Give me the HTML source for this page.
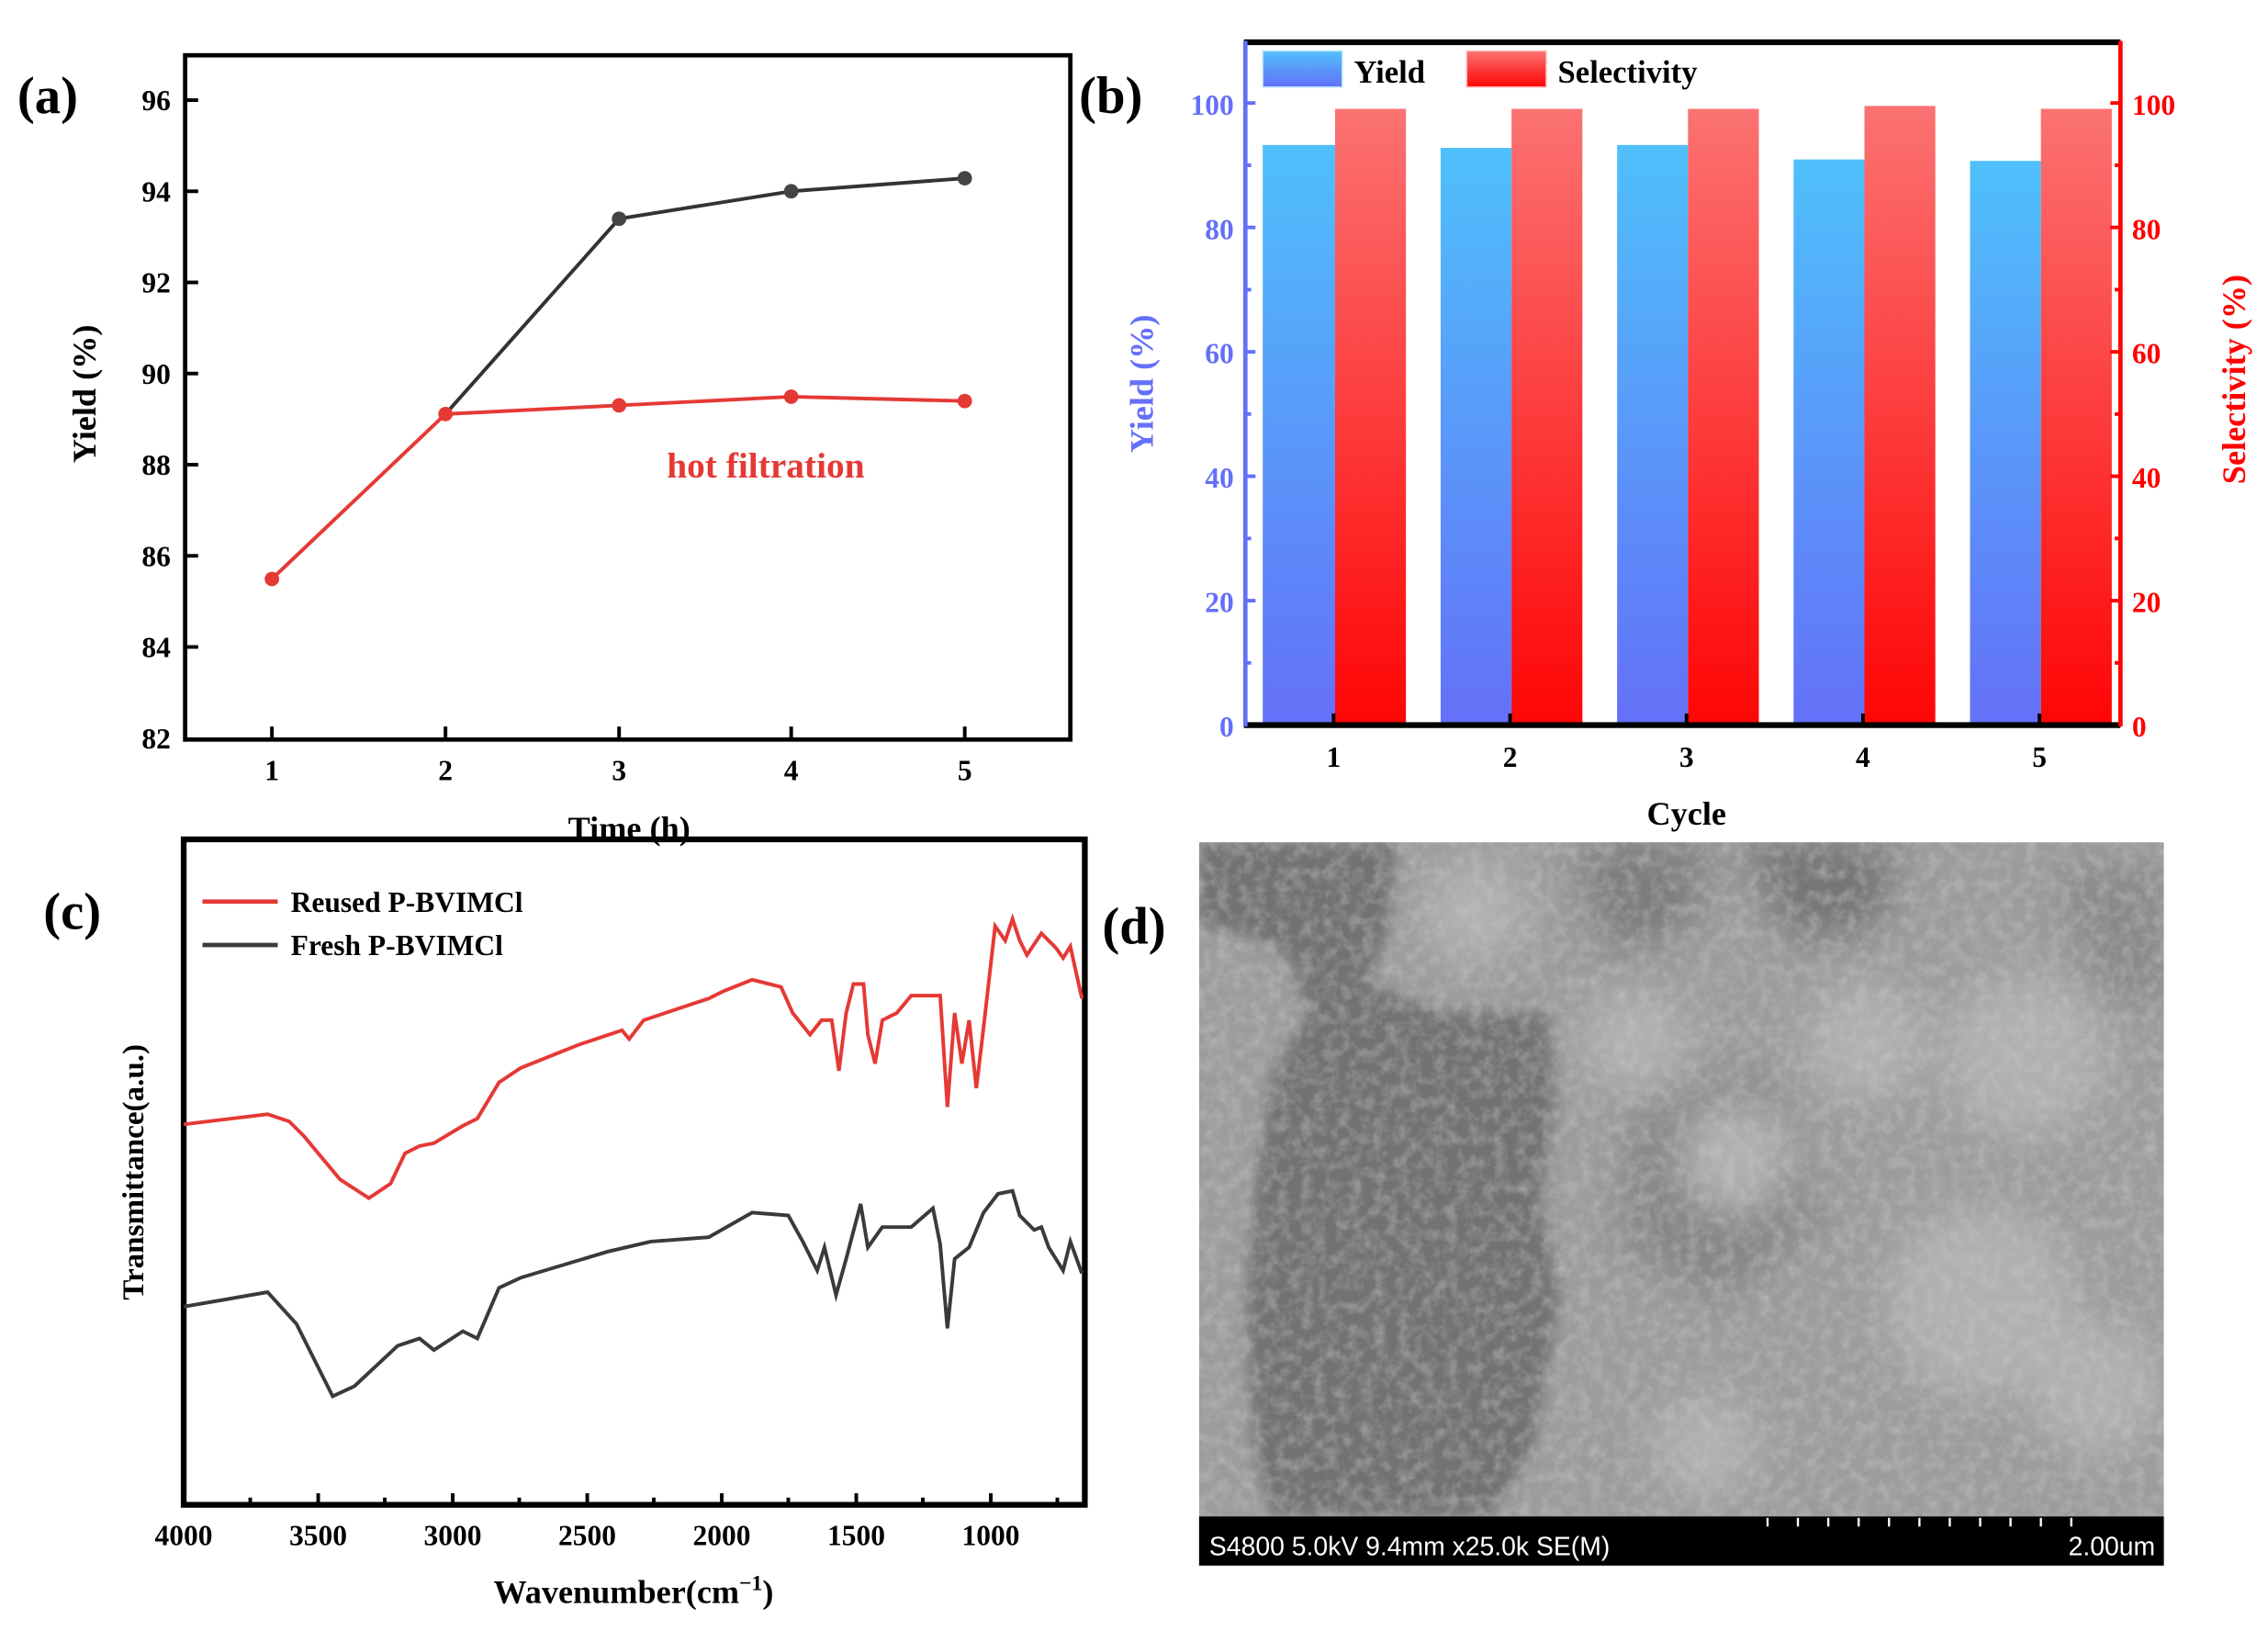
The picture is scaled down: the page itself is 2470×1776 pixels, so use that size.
<!DOCTYPE html>
<html><head><meta charset="utf-8"><style>html,body{margin:0;padding:0;background:#fff}svg{display:block}</style></head>
<body>
<svg width="2470" height="1776" viewBox="0 0 1568 1127" xmlns="http://www.w3.org/2000/svg" font-family="'Liberation Serif',serif" font-weight="bold">
<defs>
<linearGradient id="gy" x1="0" y1="0" x2="0" y2="1"><stop offset="0" stop-color="#4fc0fb"/><stop offset="1" stop-color="#6470f8"/></linearGradient>
<linearGradient id="gs" x1="0" y1="0" x2="0" y2="1"><stop offset="0" stop-color="#fb7272"/><stop offset="1" stop-color="#ff0505"/></linearGradient>
<filter id="noise" x="0" y="0" width="100%" height="100%"><feTurbulence type="fractalNoise" baseFrequency="0.12" numOctaves="3" seed="4"/><feColorMatrix type="matrix" values="0 0 0 0 0.6  0 0 0 0 0.6  0 0 0 0 0.6  0.9 0 0 0 -0.35"/></filter>
<filter id="blur"><feGaussianBlur stdDeviation="5"/></filter>
<filter id="blur2"><feGaussianBlur stdDeviation="14"/></filter>
<clipPath id="semclip"><rect x="829" y="582" width="667" height="466"/></clipPath>
</defs>
<rect width="1568" height="1127" fill="#fff"/>

<!-- (a) -->
<text x="12" y="78" font-size="36">(a)</text>
<rect x="128" y="38" width="612" height="473" fill="none" stroke="#000" stroke-width="3"/>
<g stroke="#000" stroke-width="2.5">
<line x1="128" y1="69" x2="137" y2="69"/><line x1="128" y1="132" x2="137" y2="132"/><line x1="128" y1="195" x2="137" y2="195"/><line x1="128" y1="258" x2="137" y2="258"/><line x1="128" y1="321" x2="137" y2="321"/><line x1="128" y1="384" x2="137" y2="384"/><line x1="128" y1="447" x2="137" y2="447"/>
<line x1="188" y1="511" x2="188" y2="502"/><line x1="308" y1="511" x2="308" y2="502"/><line x1="428" y1="511" x2="428" y2="502"/><line x1="547" y1="511" x2="547" y2="502"/><line x1="667" y1="511" x2="667" y2="502"/>
</g>
<g font-size="20" text-anchor="end">
<text x="118" y="76">96</text><text x="118" y="139">94</text><text x="118" y="202">92</text><text x="118" y="265">90</text><text x="118" y="328">88</text><text x="118" y="391">86</text><text x="118" y="454">84</text><text x="118" y="517">82</text></g>
<g font-size="20" text-anchor="middle"><text x="188" y="539">1</text><text x="308" y="539">2</text><text x="428" y="539">3</text><text x="547" y="539">4</text><text x="667" y="539">5</text></g>
<text x="435" y="580" font-size="23" text-anchor="middle">Time (h)</text>
<text transform="translate(66,272) rotate(-90)" font-size="23" text-anchor="middle">Yield (%)</text>
<polyline points="308,286 428,151 547,132 667,123" fill="none" stroke="#333" stroke-width="2.5"/>
<g fill="#444"><circle cx="428" cy="151" r="5"/><circle cx="547" cy="132" r="5"/><circle cx="667" cy="123" r="5"/></g>
<polyline points="188,400 308,286 428,280 547,274 667,277" fill="none" stroke="#e53935" stroke-width="2.5"/>
<g fill="#e53935"><circle cx="188" cy="400" r="5"/><circle cx="308" cy="286" r="5"/><circle cx="428" cy="280" r="5"/><circle cx="547" cy="274" r="5"/><circle cx="667" cy="277" r="5"/></g>
<text x="461" y="330" font-size="25" fill="#e53935">hot filtration</text>

<!-- (b) -->
<text x="746" y="78" font-size="36">(b)</text>
<g>
<rect x="873" y="100" width="50" height="401" fill="url(#gy)"/><rect x="923" y="75" width="49" height="426" fill="url(#gs)"/>
<rect x="996" y="102" width="49" height="399" fill="url(#gy)"/><rect x="1045" y="75" width="49" height="426" fill="url(#gs)"/>
<rect x="1118" y="100" width="49" height="401" fill="url(#gy)"/><rect x="1167" y="75" width="49" height="426" fill="url(#gs)"/>
<rect x="1240" y="110" width="49" height="391" fill="url(#gy)"/><rect x="1289" y="73" width="49" height="428" fill="url(#gs)"/>
<rect x="1362" y="111" width="49" height="390" fill="url(#gy)"/><rect x="1411" y="75" width="49" height="426" fill="url(#gs)"/>
</g>
<line x1="860" y1="29" x2="1466" y2="29" stroke="#000" stroke-width="4"/>
<line x1="860" y1="501" x2="1466" y2="501" stroke="#000" stroke-width="4"/>
<line x1="861" y1="28" x2="861" y2="502" stroke="#6470f8" stroke-width="3"/>
<line x1="1466" y1="28" x2="1466" y2="502" stroke="#ff0000" stroke-width="3"/>
<g stroke="#6470f8" stroke-width="2.5"><line x1="861" y1="71" x2="868" y2="71"/><line x1="861" y1="157" x2="868" y2="157"/><line x1="861" y1="243" x2="868" y2="243"/><line x1="861" y1="329" x2="868" y2="329"/><line x1="861" y1="415" x2="868" y2="415"/><line x1="861" y1="114" x2="865" y2="114"/><line x1="861" y1="200" x2="865" y2="200"/><line x1="861" y1="286" x2="865" y2="286"/><line x1="861" y1="372" x2="865" y2="372"/><line x1="861" y1="458" x2="865" y2="458"/></g>
<g stroke="#ff0000" stroke-width="2.5"><line x1="1459" y1="71" x2="1466" y2="71"/><line x1="1459" y1="157" x2="1466" y2="157"/><line x1="1459" y1="243" x2="1466" y2="243"/><line x1="1459" y1="329" x2="1466" y2="329"/><line x1="1459" y1="415" x2="1466" y2="415"/><line x1="1462" y1="114" x2="1466" y2="114"/><line x1="1462" y1="200" x2="1466" y2="200"/><line x1="1462" y1="286" x2="1466" y2="286"/><line x1="1462" y1="372" x2="1466" y2="372"/><line x1="1462" y1="458" x2="1466" y2="458"/></g>
<g stroke="#000" stroke-width="2.5"><line x1="922" y1="501" x2="922" y2="493"/><line x1="1044" y1="501" x2="1044" y2="493"/><line x1="1166" y1="501" x2="1166" y2="493"/><line x1="1288" y1="501" x2="1288" y2="493"/><line x1="1410" y1="501" x2="1410" y2="493"/></g>
<g font-size="20" text-anchor="end" fill="#6470f8"><text x="853" y="79">100</text><text x="853" y="165">80</text><text x="853" y="251">60</text><text x="853" y="337">40</text><text x="853" y="423">20</text><text x="853" y="509">0</text></g>
<g font-size="20" fill="#ff0000"><text x="1474" y="79">100</text><text x="1474" y="165">80</text><text x="1474" y="251">60</text><text x="1474" y="337">40</text><text x="1474" y="423">20</text><text x="1474" y="509">0</text></g>
<g font-size="20" text-anchor="middle"><text x="922" y="530">1</text><text x="1044" y="530">2</text><text x="1166" y="530">3</text><text x="1288" y="530">4</text><text x="1410" y="530">5</text></g>
<text x="1166" y="570" font-size="23" text-anchor="middle">Cycle</text>
<text transform="translate(797,265) rotate(-90)" font-size="23" text-anchor="middle" fill="#6470f8">Yield (%)</text>
<text transform="translate(1552,262) rotate(-90)" font-size="23" text-anchor="middle" fill="#ff0000">Selectivity (%)</text>
<rect x="873" y="35" width="55" height="25" fill="url(#gy)" stroke="#bfe6fb" stroke-width="1"/>
<text x="936" y="57" font-size="22">Yield</text>
<rect x="1014" y="35" width="55" height="25" fill="url(#gs)" stroke="#fbb" stroke-width="1"/>
<text x="1077" y="57" font-size="22">Selectivity</text>

<!-- (c) -->
<text x="30" y="642" font-size="36">(c)</text>
<rect x="127" y="580" width="623" height="460" fill="none" stroke="#000" stroke-width="4"/>
<g stroke="#000" stroke-width="2.5"><line x1="220" y1="1040" x2="220" y2="1032"/><line x1="313" y1="1040" x2="313" y2="1032"/><line x1="406" y1="1040" x2="406" y2="1032"/><line x1="499" y1="1040" x2="499" y2="1032"/><line x1="592" y1="1040" x2="592" y2="1032"/><line x1="685" y1="1040" x2="685" y2="1032"/><line x1="173" y1="1040" x2="173" y2="1035"/><line x1="266" y1="1040" x2="266" y2="1035"/><line x1="359" y1="1040" x2="359" y2="1035"/><line x1="452" y1="1040" x2="452" y2="1035"/><line x1="545" y1="1040" x2="545" y2="1035"/><line x1="638" y1="1040" x2="638" y2="1035"/><line x1="731" y1="1040" x2="731" y2="1035"/></g>
<g font-size="20" text-anchor="middle"><text x="127" y="1068">4000</text><text x="220" y="1068">3500</text><text x="313" y="1068">3000</text><text x="406" y="1068">2500</text><text x="499" y="1068">2000</text><text x="592" y="1068">1500</text><text x="685" y="1068">1000</text></g>
<text x="438" y="1108" font-size="23" text-anchor="middle">Wavenumber(cm<tspan font-size="15" dy="-9">−1</tspan><tspan dy="9">)</tspan></text>
<text transform="translate(99,810) rotate(-90)" font-size="21" text-anchor="middle">Transmittance(a.u.)</text>
<polyline fill="none" stroke="#e53935" stroke-width="2.5" points="127,777 185,770 200,775 210,785 235,815 255,828 270,818 280,797 290,792 300,790 320,778 330,773 345,748 360,738 400,722 430,712 435,718 445,705 490,690 500,685 520,677 540,682 548,700 560,715 568,705 575,705 580,740 585,700 590,680 597,680 600,715 605,735 610,705 620,700 630,688 650,688 655,765 660,700 665,735 670,705 675,752 680,710 688,640 695,650 700,635 705,650 710,660 720,645 730,655 735,662 740,654 748,690"/>
<polyline fill="none" stroke="#3a3a3a" stroke-width="2.5" points="127,903 185,893 205,915 230,965 245,958 275,930 290,925 300,933 320,920 330,925 345,890 360,883 420,865 450,858 490,855 520,838 545,840 555,858 565,878 570,862 578,895 585,870 595,832 600,862 605,855 610,848 630,848 645,835 650,860 655,918 660,870 670,862 680,838 690,825 700,823 705,840 715,850 720,848 725,862 735,878 740,858 748,880"/>
<line x1="140" y1="623" x2="192" y2="623" stroke="#e53935" stroke-width="3"/>
<text x="201" y="630" font-size="20">Reused P-BVIMCl</text>
<line x1="140" y1="653" x2="192" y2="653" stroke="#3a3a3a" stroke-width="3"/>
<text x="201" y="660" font-size="20">Fresh P-BVIMCl</text>

<!-- (d) -->
<text x="762" y="652" font-size="36">(d)</text>
<g clip-path="url(#semclip)">
<rect x="829" y="582" width="667" height="466" fill="#9c9c9c"/>
<g filter="url(#blur2)" fill="#7c7c7c">
<path d="M1090,582 L1180,582 L1170,640 L1110,660 Z"/>
<path d="M1200,582 L1310,582 L1300,640 L1240,650 Z" fill="#747474"/>
<path d="M1130,760 L1220,740 L1260,840 L1190,900 L1120,860 Z" fill="#858585"/>
<path d="M1420,600 L1496,600 L1496,700 L1450,680 Z" fill="#888"/>
</g>
<g filter="url(#blur)" fill="#727272">
<path d="M829,582 L965,582 L960,640 L945,680 L1000,700 L1070,700 L1075,760 L1065,830 L1078,900 L1060,1000 L1030,1048 L880,1048 L866,1000 L862,900 L868,820 L880,740 L905,700 L890,660 L860,645 L829,640 Z"/>
</g>
<g filter="url(#blur2)" fill="#b0b0b0">
<circle cx="1400" cy="730" r="55"/><circle cx="1370" cy="900" r="65"/><circle cx="1200" cy="800" r="40"/><circle cx="1290" cy="720" r="40"/><circle cx="1450" cy="960" r="45"/><circle cx="1180" cy="1000" r="35"/><circle cx="1130" cy="720" r="35"/><circle cx="1020" cy="630" r="35"/>
</g>
<rect x="829" y="582" width="667" height="466" filter="url(#noise)"/>
</g>
<rect x="829" y="1048" width="667" height="34" fill="#000"/>
<g stroke="#fff" stroke-width="1.5"><line x1="1222" y1="1049" x2="1222" y2="1055"/><line x1="1243" y1="1049" x2="1243" y2="1055"/><line x1="1264" y1="1049" x2="1264" y2="1055"/><line x1="1285" y1="1049" x2="1285" y2="1055"/><line x1="1306" y1="1049" x2="1306" y2="1055"/><line x1="1327" y1="1049" x2="1327" y2="1055"/><line x1="1348" y1="1049" x2="1348" y2="1055"/><line x1="1369" y1="1049" x2="1369" y2="1055"/><line x1="1390" y1="1049" x2="1390" y2="1055"/><line x1="1411" y1="1049" x2="1411" y2="1055"/><line x1="1432" y1="1049" x2="1432" y2="1055"/></g>
<text x="836" y="1075" font-family="'Liberation Sans',sans-serif" font-weight="normal" font-size="18" fill="#fff">S4800 5.0kV 9.4mm x25.0k SE(M)</text>
<text x="1490" y="1075" font-family="'Liberation Sans',sans-serif" font-weight="normal" font-size="18" fill="#fff" text-anchor="end">2.00um</text>
</svg>
</body></html>
